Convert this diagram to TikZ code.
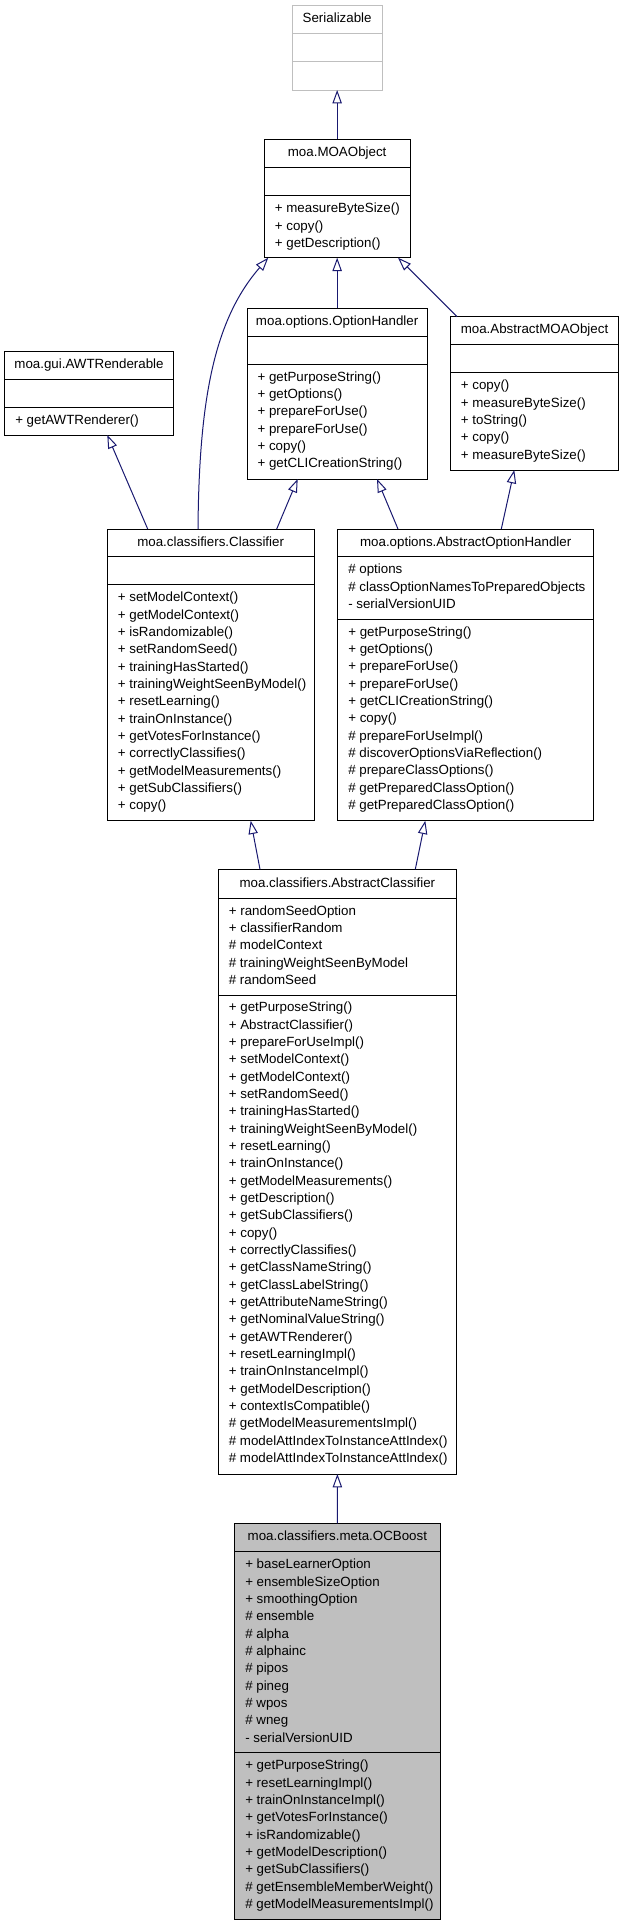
\documentclass[tikz,border=0pt]{standalone}
\usepackage{fontspec}
\setmainfont{Liberation Sans}
\usetikzlibrary{arrows.meta}
\definecolor{edgeblue}{HTML}{191970}
\definecolor{lgray}{HTML}{BFBFBF}
\definecolor{ocfill}{HTML}{BFBFBF}

% #1 name, #2 left, #3 top, #4 right, #5 bottom, #6 div1, #7 div2, #8 border colour, #9 fill colour
\newcommand\umlbox[9]{%
  \node[box,draw=#8,fill=#9,anchor=north west,
        minimum width={(#4-#2)*0.75pt},minimum height={(#5-#3)*0.75pt}] (#1) at (#2,#3) {};
  \draw[divl,draw=#8] (#2,#6) -- (#4,#6);
  \draw[divl,draw=#8] (#2,#7) -- (#4,#7);
}
% #1 prefix, #2 x, #3 compartment top, #4 list
\newcommand\umlmembers[4]{%
  \foreach \t [count=\i from 0] in {#4} {\node[mem] (#1\i) at ({#2},{#3+13.5+17.333*\i}) {\t};}
}

\begin{document}
\begin{tikzpicture}[x=0.75pt,y=-0.75pt,
  box/.style={line width=0.75pt,inner sep=0pt,outer sep=0pt,rectangle},
  divl/.style={line width=0.75pt},
  ttl/.style={inner sep=0pt,font=\fontsize{10pt}{13pt}\selectfont,text height=7.2pt,text depth=2pt},
  mem/.style={ttl,anchor=west},
  inh/.style={draw=edgeblue,line width=0.75pt,-{Triangle[open,length=10pt,width=7pt]}}
]
\useasboundingbox (0,0) rectangle (624,1925);

% Serializable
\umlbox{ser}{292.3}{5.7}{382}{90}{33.3}{61.7}{lgray}{white}
\node[ttl] (ser-t) at ({(292.3+382)/2},{(5.7+33.3)/2}) {Serializable};

% MOAObject
\umlbox{moaobj}{264.3}{139.3}{410}{257.7}{167}{195.7}{black}{white}
\node[ttl] (moaobj-t) at ({(264.3+410)/2},{(139.3+167)/2}) {moa.MOAObject};
\umlmembers{moaobj-m}{274.6}{195.7}{+ measureByteSize(),+ copy(),+ getDescription()}

% OptionHandler
\umlbox{opth}{247}{308.3}{427.3}{479}{336}{364.3}{black}{white}
\node[ttl] (opth-t) at ({(247+427.3)/2},{(308.3+336)/2}) {moa.options.OptionHandler};
\umlmembers{opth-m}{257.3}{364.3}{+ getPurposeString(),+ getOptions(),+ prepareForUse(),+ prepareForUse(),+ copy(),+ getCLICreationString()}

% AbstractMOAObject
\umlbox{amoa}{450.3}{316.7}{618.7}{470}{344.3}{372.7}{black}{white}
\node[ttl] (amoa-t) at ({(450.3+618.7)/2},{(316.7+344.3)/2}) {moa.AbstractMOAObject};
\umlmembers{amoa-m}{460.6}{372.7}{+ copy(),+ measureByteSize(),+ toString(),+ copy(),+ measureByteSize()}

% AWTRenderable
\umlbox{awt}{4.7}{351}{173.3}{435}{379.3}{407.3}{black}{white}
\node[ttl] (awt-t) at ({(4.7+173.3)/2},{(351+379.3)/2}) {moa.gui.AWTRenderable};
\umlmembers{awt-m}{15}{407.3}{+ getAWTRenderer()}

% Classifier
\umlbox{cls}{107.3}{529}{314}{820.7}{556.7}{584.7}{black}{white}
\node[ttl] (cls-t) at ({(107.3+314)/2},{(529+556.7)/2}) {moa.classifiers.Classifier};
\umlmembers{cls-m}{117.6}{584.7}{+ setModelContext(),+ getModelContext(),+ isRandomizable(),+ setRandomSeed(),+ trainingHasStarted(),+ trainingWeightSeenByModel(),+ resetLearning(),+ trainOnInstance(),+ getVotesForInstance(),+ correctlyClassifies(),+ getModelMeasurements(),+ getSubClassifiers(),+ copy()}

% AbstractOptionHandler
\umlbox{aoh}{337.7}{529}{593.7}{820.7}{556.7}{619.3}{black}{white}
\node[ttl] (aoh-t) at ({(337.7+593.7)/2},{(529+556.7)/2}) {moa.options.AbstractOptionHandler};
\umlmembers{aoh-a}{348}{556.7}{\# options,\# classOptionNamesToPreparedObjects,- serialVersionUID}
\umlmembers{aoh-m}{348}{619.3}{+ getPurposeString(),+ getOptions(),+ prepareForUse(),+ prepareForUse(),+ getCLICreationString(),+ copy(),\# prepareForUseImpl(),\# discoverOptionsViaReflection(),\# prepareClassOptions(),\# getPreparedClassOption(),\# getPreparedClassOption()}

% AbstractClassifier
\umlbox{ac}{218.3}{869.3}{456.5}{1474}{898.3}{995}{black}{white}
\node[ttl] (ac-t) at ({(218.3+456.5)/2},{(869.3+898.3)/2}) {moa.classifiers.AbstractClassifier};
\umlmembers{ac-a}{228.6}{898.3}{+ randomSeedOption,+ classifierRandom,\# modelContext,\# trainingWeightSeenByModel,\# randomSeed}
\umlmembers{ac-m}{228.6}{995}{+ getPurposeString(),+ AbstractClassifier(),+ prepareForUseImpl(),+ setModelContext(),+ getModelContext(),+ setRandomSeed(),+ trainingHasStarted(),+ trainingWeightSeenByModel(),+ resetLearning(),+ trainOnInstance(),+ getModelMeasurements(),+ getDescription(),+ getSubClassifiers(),+ copy(),+ correctlyClassifies(),+ getClassNameString(),+ getClassLabelString(),+ getAttributeNameString(),+ getNominalValueString(),+ getAWTRenderer(),+ resetLearningImpl(),+ trainOnInstanceImpl(),+ getModelDescription(),+ contextIsCompatible(),\# getModelMeasurementsImpl(),\# modelAttIndexToInstanceAttIndex(),\# modelAttIndexToInstanceAttIndex()}

% OCBoost
\umlbox{oc}{234.7}{1523.3}{440}{1919.3}{1551.7}{1752.7}{black}{ocfill}
\node[ttl] (oc-t) at ({(234.7+440)/2},{(1523.3+1551.7)/2}) {moa.classifiers.meta.OCBoost};
\umlmembers{oc-a}{245}{1551.7}{+ baseLearnerOption,+ ensembleSizeOption,+ smoothingOption,\# ensemble,\# alpha,\# alphainc,\# pipos,\# pineg,\# wpos,\# wneg,- serialVersionUID}
\umlmembers{oc-m}{245}{1752.7}{+ getPurposeString(),+ resetLearningImpl(),+ trainOnInstanceImpl(),+ getVotesForInstance(),+ isRandomizable(),+ getModelDescription(),+ getSubClassifiers(),\# getEnsembleMemberWeight(),\# getModelMeasurementsImpl()}

% inheritance connectors
\draw[inh] (moaobj.north) -- (ser.south);
\draw[inh] (opth.north) -- (moaobj.south);
\draw[inh] ([shift={(6.7,0)}]amoa.north west) -- ([shift={(133.7,0)}]moaobj.south west);
\draw[inh] ([shift={(90.7,0)}]cls.north west) .. controls +(1,-129) and +(-54.3,62.3) .. ([shift={(4,0)}]moaobj.south west);
\draw[inh] ([shift={(40.4,0)}]cls.north west) -- ([shift={(102.6,0)}]awt.south west);
\draw[inh] ([shift={(169.4,0)}]cls.north west) -- ([shift={(50.7,0)}]opth.south west);
\draw[inh] ([shift={(60.3,0)}]aoh.north west) -- ([shift={(130,0)}]opth.south west);
\draw[inh] ([shift={(163.6,0)}]aoh.north west) -- ([shift={(64,0)}]amoa.south west);
\draw[inh] ([shift={(41.7,0)}]ac.north west) -- ([shift={(143.4,0)}]cls.south west);
\draw[inh] ([shift={(197,0)}]ac.north west) -- ([shift={(87.6,0)}]aoh.south west);
\draw[inh] (oc.north) -- (ac.south);
\end{tikzpicture}
\end{document}
